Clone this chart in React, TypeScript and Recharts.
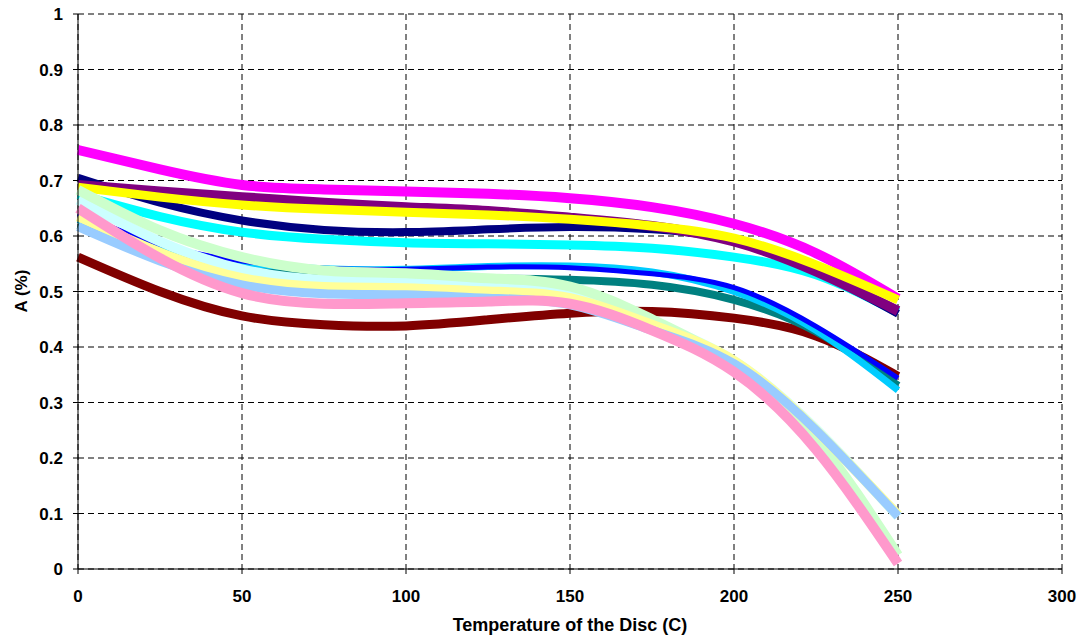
import React from "react"
import { LineChart, Line, XAxis, YAxis, CartesianGrid } from "recharts"

// temperature of the disc (C)
const temps = [0, 25, 50, 75, 100, 125, 150, 175, 200, 225, 250]

// A (%), one array per series
const maroon = [0.562, 0.5, 0.456, 0.44, 0.438, 0.449, 0.461, 0.464, 0.452, 0.42, 0.347]
const teal = [0.62, 0.57, 0.54, 0.528, 0.522, 0.523, 0.521, 0.512, 0.485, 0.428, 0.33]
const skyBlue = [0.63, 0.58, 0.552, 0.541, 0.54, 0.545, 0.546, 0.535, 0.5, 0.43, 0.322]
const blue = [0.64, 0.585, 0.555, 0.542, 0.54, 0.544, 0.543, 0.532, 0.507, 0.437, 0.344]
const cyan = [0.675, 0.635, 0.607, 0.594, 0.588, 0.586, 0.584, 0.578, 0.562, 0.53, 0.462]
const navy = [0.705, 0.66, 0.628, 0.611, 0.607, 0.612, 0.616, 0.612, 0.592, 0.537, 0.46]
const purple = [0.692, 0.68, 0.67, 0.66, 0.652, 0.645, 0.633, 0.618, 0.59, 0.536, 0.465]
const magenta = [0.755, 0.72, 0.692, 0.684, 0.68, 0.676, 0.668, 0.652, 0.622, 0.569, 0.487]
const yellow = [0.688, 0.67, 0.656, 0.648, 0.643, 0.638, 0.63, 0.618, 0.596, 0.548, 0.485]
const lightCyan = [0.665, 0.59, 0.54, 0.521, 0.521, 0.515, 0.5, 0.445, 0.375, 0.252, 0.095]
const lightGreen = [0.683, 0.61, 0.562, 0.538, 0.533, 0.524, 0.509, 0.45, 0.37, 0.235, 0.025]
const lightYellow = [0.635, 0.57, 0.524, 0.508, 0.506, 0.5, 0.488, 0.44, 0.375, 0.25, 0.097]
const lightBlue = [0.617, 0.555, 0.512, 0.496, 0.494, 0.488, 0.476, 0.43, 0.37, 0.25, 0.095]
const pink = [0.65, 0.56, 0.497, 0.478, 0.479, 0.482, 0.478, 0.43, 0.355, 0.215, 0.01]

const xTicks = [0, 50, 100, 150, 200, 250, 300]
const yTicks = [0, 0.1, 0.2, 0.3, 0.4, 0.5, 0.6, 0.7, 0.8, 0.9, 1]

// drawing order: first is at the bottom
const series = [
  { key: "maroon", values: maroon, color: "#800000", width: 9 },
  { key: "teal", values: teal, color: "#008080", width: 8 },
  { key: "skyBlue", values: skyBlue, color: "#00CCFF", width: 7 },
  { key: "blue", values: blue, color: "#0000FF", width: 5 },
  { key: "cyan", values: cyan, color: "#00FFFF", width: 9 },
  { key: "navy", values: navy, color: "#000080", width: 8 },
  { key: "purple", values: purple, color: "#800080", width: 10 },
  { key: "magenta", values: magenta, color: "#FF00FF", width: 10 },
  { key: "yellow", values: yellow, color: "#FFFF00", width: 9 },
  { key: "lightCyan", values: lightCyan, color: "#CCFFFF", width: 10 },
  { key: "lightGreen", values: lightGreen, color: "#CCFFCC", width: 10 },
  { key: "lightYellow", values: lightYellow, color: "#FFFF99", width: 10 },
  { key: "lightBlue", values: lightBlue, color: "#99CCFF", width: 9 },
  { key: "pink", values: pink, color: "#FF99CC", width: 10 },
]

const rows = temps.map((t, i) => {
  const row: Record<string, number> = { t }
  series.forEach((s) => {
    row[s.key] = s.values[i]
  })
  return row
})

const font = "'Liberation Sans', Arial, sans-serif"
const tickStyle = { fontFamily: font, fontSize: 17, fontWeight: 700, fill: "#000" }

export default function App() {
  return (
    <div style={{ position: "absolute", left: 0, top: 0, background: "#fff" }}>
      <LineChart width={1082} height={638} data={rows} margin={{ top: 14, right: 20, bottom: 0, left: 0 }}>
        <CartesianGrid stroke="#000" strokeDasharray="6 4" strokeWidth={1} />
        <XAxis
          dataKey="t"
          type="number"
          domain={[0, 300]}
          ticks={xTicks}
          height={69}
          tickSize={5}
          tickMargin={16}
          tick={tickStyle}
          stroke="#000"
          label={{
            value: "Temperature of the Disc (C)",
            position: "insideBottom",
            offset: 7,
            style: { fontFamily: font, fontSize: 18, fontWeight: 700, fill: "#000" },
          }}
        />
        <YAxis
          type="number"
          domain={[0, 1]}
          ticks={yTicks}
          width={78}
          tickSize={5}
          tickMargin={10}
          tick={tickStyle}
          stroke="#000"
          tickFormatter={(v: number) => String(v)}
          label={{
            content: () => (
              <text
                x={27}
                y={291}
                transform="rotate(-90 27 291)"
                textAnchor="middle"
                style={{ fontFamily: font, fontSize: 17, fontWeight: 700, fill: "#000" }}
              >
                A (%)
              </text>
            ),
          }}
        />
        {series.map((s) => (
          <Line
            key={s.key}
            dataKey={s.key}
            type="natural"
            stroke={s.color}
            strokeWidth={s.width}
            dot={false}
            activeDot={false}
            isAnimationActive={false}
          />
        ))}
      </LineChart>
    </div>
  )
}
